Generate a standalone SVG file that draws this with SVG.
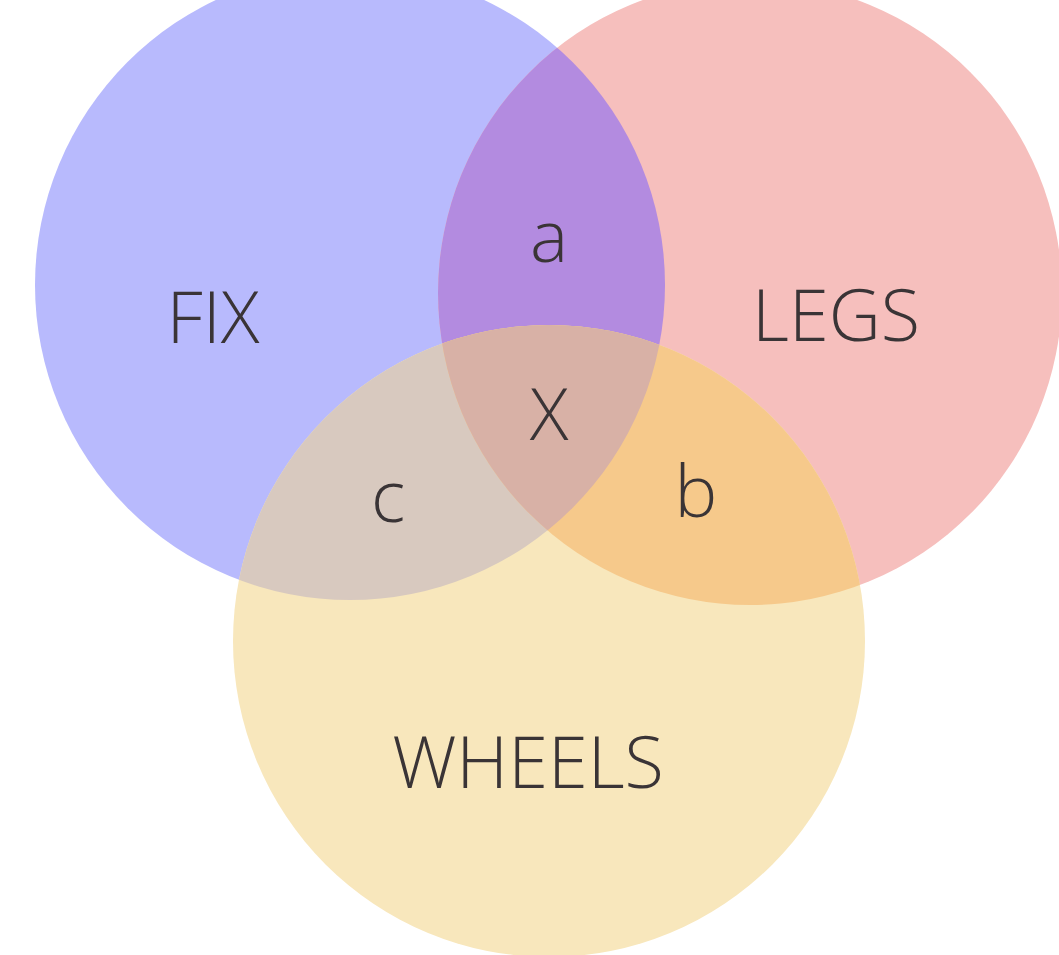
<svg xmlns="http://www.w3.org/2000/svg" width="1059" height="955" viewBox="0 0 1059 955">
<style>
.lbl{font-family:"Open Sans","Liberation Sans",sans-serif;font-weight:300;font-size:72px;fill:#3a3436;text-anchor:middle}
</style>
<defs>
<clipPath id="clipA"><circle cx="350" cy="285" r="315"/></clipPath>
<clipPath id="clipB"><circle cx="750" cy="293" r="312"/></clipPath>
</defs>
<rect width="1059" height="955" fill="#ffffff"/>
<g id="fix"><circle cx="350" cy="285" r="315" fill="#b8bafd"/></g>
<g id="legs"><circle cx="750" cy="293" r="312" fill="#f6bfbd"/></g>
<g id="wheels"><circle cx="549" cy="641" r="316" fill="#f8e7bc"/></g>
<g id="overlap-a" clip-path="url(#clipA)"><circle cx="750" cy="293" r="312" fill="#b38be0"/></g>
<g id="overlap-c" clip-path="url(#clipA)"><circle cx="549" cy="641" r="316" fill="#d8c9bf"/></g>
<g id="overlap-b" clip-path="url(#clipB)"><circle cx="549" cy="641" r="316" fill="#f6c98b"/></g>
<g id="overlap-x" clip-path="url(#clipA)"><g clip-path="url(#clipB)"><circle cx="549" cy="641" r="316" fill="#d8b1a6"/></g></g>
<g id="labels">
<text class="lbl" x="213" y="343">FIX</text>
<text class="lbl" x="836" y="341">LEGS</text>
<text class="lbl" x="549" y="262">a</text>
<text class="lbl" x="549" y="440">X</text>
<text class="lbl" x="388" y="522">c</text>
<text class="lbl" x="696" y="517">b</text>
<text class="lbl" x="528" y="788">WHEELS</text>
</g>
</svg>
